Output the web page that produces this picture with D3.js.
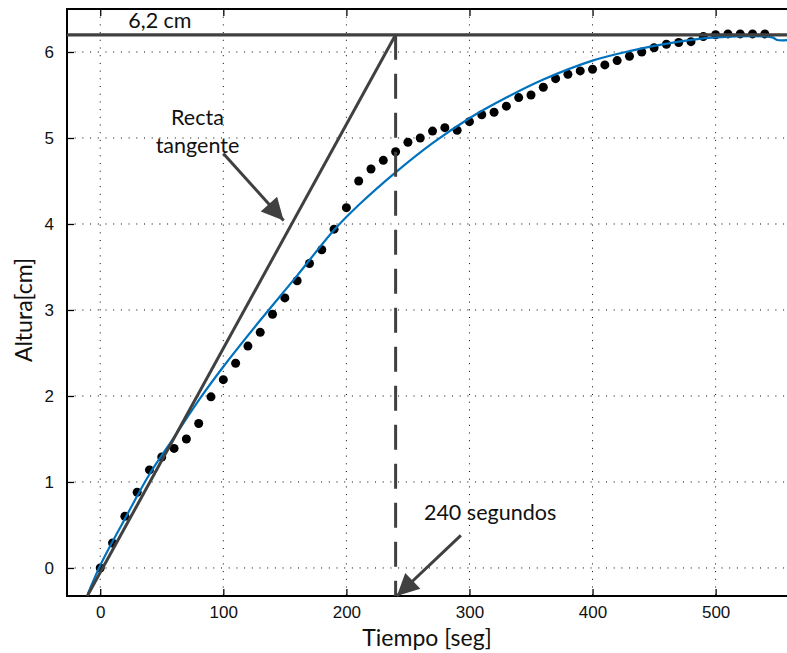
<!DOCTYPE html>
<html>
<head>
<meta charset="utf-8">
<script src="https://cdn.jsdelivr.net/npm/d3@7"></script>
<style>
  body { margin: 0; background: #fff; }
  svg { display: block; font-family: Lato, "Open Sans", sans-serif; }
  .tick-label { font-size: 17px; fill: #111; }
  .axis-title { font-size: 23px; fill: #111; }
  .note { font-size: 21.5px; fill: #111; }
</style>
</head>
<body>
<div id="chart"></div>
<script>
// measured samples (tiempo en seg, altura en cm)
const sampleTimes = d3.range(0, 550, 10);
const sampleHeights = [
  0.00, 0.29, 0.60, 0.88, 1.14, 1.29, 1.39, 1.50, 1.68, 1.99,
  2.19, 2.38, 2.58, 2.74, 2.95, 3.14, 3.34, 3.54, 3.70, 3.94,
  4.19, 4.50, 4.64, 4.74, 4.84, 4.95, 5.00, 5.08, 5.12, 5.09,
  5.19, 5.27, 5.30, 5.37, 5.47, 5.50, 5.59, 5.69, 5.74, 5.78,
  5.80, 5.85, 5.90, 5.95, 6.00, 6.05, 6.09, 6.11, 6.12, 6.18,
  6.20, 6.21, 6.21, 6.21, 6.21
];

// model response (blue curve)
const modelTimes = [-10, 0, 20, 40, 60, 80, 100, 130, 160, 190, 210, 240, 270, 300, 330, 360, 400, 430, 470, 500, 546, 550, 560];
const modelHeights = [-0.30, 0.03, 0.57, 1.09, 1.52, 1.95, 2.34, 2.88, 3.40, 3.93, 4.22, 4.60, 4.94, 5.23, 5.47, 5.68, 5.90, 6.01, 6.12, 6.17, 6.17, 6.14, 6.14];

const xTicks = [0, 100, 200, 300, 400, 500];
const yTicks = [0, 1, 2, 3, 4, 5, 6];

const finalHeight = 6.2;     // cm
const tangentStart = 2;      // seg, where the tangent crosses 0
const tauTime = 240;         // seg

const config = {
  width: 787, height: 653,
  left: 67, top: 9, bottom: 596, right: 787
};

const svg = d3.select('#chart').append('svg')
  .attr('width', config.width)
  .attr('height', config.height);

const x = d3.scaleLinear().domain([-27, 558]).range([config.left, config.right]);
const y = d3.scaleLinear().domain([-0.326, 6.5]).range([config.bottom, config.top]);

svg.append('clipPath').attr('id', 'plot-clip')
  .append('rect')
  .attr('x', config.left).attr('y', config.top)
  .attr('width', config.right - config.left)
  .attr('height', config.bottom - config.top);

// grid
const grid = svg.append('g').attr('class', 'grid');
grid.selectAll('.gx').data(xTicks).enter().append('line')
  .attr('x1', d => x(d)).attr('x2', d => x(d))
  .attr('y1', config.top).attr('y2', config.bottom)
  .attr('stroke', '#000').attr('stroke-width', 1)
  .attr('stroke-dasharray', '1,6.7');
grid.selectAll('.gy').data(yTicks).enter().append('line')
  .attr('x1', config.left).attr('x2', config.right)
  .attr('y1', d => y(d)).attr('y2', d => y(d))
  .attr('stroke', '#000').attr('stroke-width', 1)
  .attr('stroke-dasharray', '1,6.7');

// axes (ticks pointing in)
const xAxis = svg.append('g')
  .attr('transform', `translate(0,${config.bottom})`)
  .call(d3.axisBottom(x).tickValues(xTicks).tickSizeInner(-7).tickSizeOuter(0).tickPadding(10).tickFormat(d3.format('d')));
const xTop = svg.append('g')
  .attr('transform', `translate(0,${config.top})`)
  .call(d3.axisTop(x).tickValues(xTicks).tickSizeInner(-7).tickSizeOuter(0).tickFormat(''));
const yAxis = svg.append('g')
  .attr('transform', `translate(${config.left},0)`)
  .call(d3.axisLeft(y).tickValues(yTicks).tickSizeInner(-7).tickSizeOuter(0).tickPadding(13).tickFormat(d3.format('d')));

[xAxis, xTop, yAxis].forEach(a => {
  a.select('.domain').remove();
  a.selectAll('.tick line').attr('stroke', '#000').attr('stroke-width', 1.3);
  a.selectAll('.tick text').attr('class', 'tick-label').attr('font-family', null).attr('font-size', null);
});

// frame
svg.append('path')
  .attr('d', `M${config.right + 5},${config.top}H${config.left}V${config.bottom}H${config.right + 5}`)
  .attr('fill', 'none').attr('stroke', '#000').attr('stroke-width', 2);

const plot = svg.append('g').attr('clip-path', 'url(#plot-clip)');

// dots
plot.selectAll('.point')
  .data(sampleTimes.map((t, i) => [t, sampleHeights[i]]))
  .enter().append('circle')
  .attr('class', 'point')
  .attr('cx', d => x(d[0]))
  .attr('cy', d => y(d[1]))
  .attr('r', 4.5)
  .attr('fill', '#000');

// model curve
const line = d3.line().x(d => x(d[0])).y(d => y(d[1])).curve(d3.curveCatmullRom);
plot.append('path')
  .datum(modelTimes.map((t, i) => [t, modelHeights[i]]))
  .attr('d', line)
  .attr('fill', 'none')
  .attr('stroke', '#0072BD')
  .attr('stroke-width', 2.2);

const gray = '#404040';

// final value line
plot.append('line')
  .attr('x1', config.left).attr('x2', config.right)
  .attr('y1', y(finalHeight)).attr('y2', y(finalHeight))
  .attr('stroke', gray).attr('stroke-width', 3.2);

// tangent line
const slope = finalHeight / (tauTime - tangentStart);
const yMin = y.domain()[0];
plot.append('line')
  .attr('x1', x(tangentStart + yMin / slope)).attr('y1', y(yMin))
  .attr('x2', x(tauTime)).attr('y2', y(finalHeight))
  .attr('stroke', gray).attr('stroke-width', 3);

// vertical dashed line at tau
plot.append('line')
  .attr('x1', x(tauTime)).attr('x2', x(tauTime))
  .attr('y1', y(finalHeight)).attr('y2', y(yMin))
  .attr('stroke', gray).attr('stroke-width', 3)
  .attr('stroke-dasharray', '25,14');

// arrows
const defs = svg.append('defs');
defs.append('marker')
  .attr('id', 'arrow')
  .attr('viewBox', '0 0 10 10')
  .attr('refX', 10).attr('refY', 5)
  .attr('markerUnits', 'userSpaceOnUse')
  .attr('markerWidth', 26).attr('markerHeight', 22)
  .attr('orient', 'auto')
  .append('path').attr('d', 'M0,0L10,5L0,10z').attr('fill', gray);

const arrows = [
  { from: [100, 4.82], to: [149, 4.04] },
  { from: [293, 0.38], to: [241, yMin] }
];
svg.selectAll('.arrow').data(arrows).enter().append('line')
  .attr('x1', d => x(d.from[0])).attr('y1', d => y(d.from[1]))
  .attr('x2', d => x(d.to[0])).attr('y2', d => y(d.to[1]))
  .attr('stroke', gray).attr('stroke-width', 3)
  .attr('marker-end', 'url(#arrow)');

// notes
const notes = [
  { text: '6,2 cm', t: 48.5, h: 6.28, anchor: 'middle' },
  { text: 'Recta', t: 79, h: 5.15, anchor: 'middle' },
  { text: 'tangente', t: 79, h: 4.83, anchor: 'middle' },
  { text: '240 segundos', t: 263, h: 0.56, anchor: 'start' }
];
svg.selectAll('.note').data(notes).enter().append('text')
  .attr('class', 'note')
  .attr('x', d => x(d.t)).attr('y', d => y(d.h))
  .attr('text-anchor', d => d.anchor)
  .text(d => d.text);

// axis titles
svg.append('text')
  .attr('class', 'axis-title')
  .attr('x', 427).attr('y', 646)
  .attr('text-anchor', 'middle')
  .text('Tiempo [seg]');
svg.append('text')
  .attr('class', 'axis-title')
  .attr('transform', 'translate(32,310) rotate(-90)')
  .attr('text-anchor', 'middle')
  .text('Altura[cm]');
</script>
</body>
</html>
